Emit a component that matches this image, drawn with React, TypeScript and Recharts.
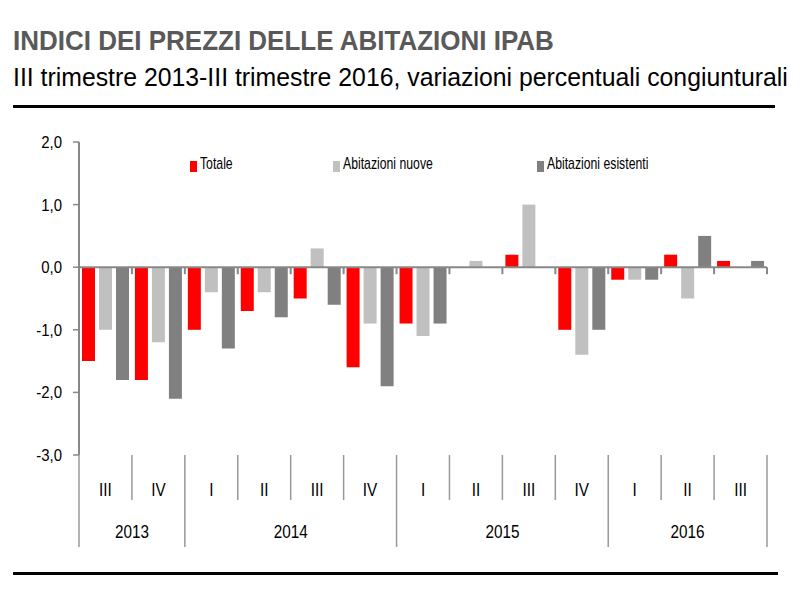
import { Bar, BarChart, Legend, ReferenceLine, XAxis, YAxis } from "recharts";

const quarters = ["III", "IV", "I", "II", "III", "IV", "I", "II", "III", "IV", "I", "II", "III"];
const quarterYears = ["2013", "2013", "2014", "2014", "2014", "2014", "2015", "2015", "2015", "2015", "2016", "2016", "2016"];
const totale = [-1.5, -1.8, -1.0, -0.7, -0.5, -1.6, -0.9, 0.0, 0.2, -1.0, -0.2, 0.2, 0.1];
const nuove = [-1.0, -1.2, -0.4, -0.4, 0.3, -0.9, -1.1, 0.1, 1.0, -1.4, -0.2, -0.5, 0.0];
const esistenti = [-1.8, -2.1, -1.3, -0.8, -0.6, -1.9, -0.9, 0.0, 0.0, -1.0, -0.2, 0.5, 0.1];
const seriesNames = ["Totale", "Abitazioni nuove", "Abitazioni esistenti"];
const yTicks = [-3, -2, -1, 0, 1, 2];

const data = quarters.map((q, i) => ({
  q,
  totale: totale[i],
  nuove: nuove[i],
  esistenti: esistenti[i],
}));

const FONT = "'Liberation Sans', Arial, sans-serif";
const W = 800;
const H = 594;
const margin = { top: 142, right: 33, bottom: 47, left: 19 };
const Y_AXIS_W = 60;
const PLOT_W = W - margin.left - margin.right - Y_AXIS_W;
const PLOT_H = 313;
const BAND = PLOT_W / quarters.length;
const Y_MIN = -3;
const Y_MAX = 2;

const fmt = (v: number) => v.toFixed(1).replace(".", ",");

// narrow text: Arial Narrow is not installed, so squeeze Liberation Sans
function NarrowText({ x, y, anchor, size, sx, children }: any) {
  return (
    <text
      transform={`translate(${x},${y}) scale(${sx},1)`}
      textAnchor={anchor}
      fontSize={size}
      fill="#000"
      fontFamily={FONT}
    >
      {children}
    </text>
  );
}

function QuarterTick(props: any) {
  const { x, y, payload } = props;
  const i = payload.index;
  const left = x - BAND / 2;
  const yr = quarterYears[i];
  const yearStart = i === 0 || quarterYears[i - 1] !== yr;
  const last = i === quarters.length - 1;
  const zeroY = y - ((0 - Y_MIN) / (Y_MAX - Y_MIN)) * PLOT_H;
  const n = quarterYears.filter((v) => v === yr).length;
  return (
    <g>
      <line x1={left} x2={left} y1={zeroY} y2={zeroY + 7} stroke="#888" strokeWidth={2} />
      {last && <line x1={left + BAND} x2={left + BAND} y1={zeroY} y2={zeroY + 7} stroke="#888" strokeWidth={2} />}
      <line x1={left} x2={left} y1={y} y2={yearStart ? y + 92 : y + 45} stroke="#999" strokeWidth={1.5} />
      {last && <line x1={left + BAND} x2={left + BAND} y1={y} y2={y + 92} stroke="#999" strokeWidth={1.5} />}
      <NarrowText x={x} y={y + 41} anchor="middle" size={18} sx={0.85}>
        {payload.value}
      </NarrowText>
      {yearStart && (
        <NarrowText x={left + (n * BAND) / 2} y={y + 83} anchor="middle" size={18} sx={0.85}>
          {yr}
        </NarrowText>
      )}
    </g>
  );
}

function ValueTick(props: any) {
  const { x, y, payload } = props;
  return (
    <NarrowText x={x} y={y + 6} anchor="end" size={17} sx={0.88}>
      {fmt(payload.value)}
    </NarrowText>
  );
}

const legendPos = [190, 333, 537];

function LegendContent(props: any) {
  const items = seriesNames.map((name) => props.payload.find((p: any) => p.value === name)).filter(Boolean);
  return (
    <div style={{ position: "relative", height: 20 }}>
      {items.map((p: any, i: number) => (
        <div key={p.value} style={{ position: "absolute", left: legendPos[i], top: 0, height: 20, whiteSpace: "nowrap" }}>
          <span
            style={{ position: "absolute", left: 0, top: 7, width: 7, height: 11, background: p.color }}
          />
          <span
            style={{
              position: "absolute",
              left: 10,
              top: 0,
              fontFamily: FONT,
              fontSize: 17,
              lineHeight: "20px",
              color: "#000",
              transform: "scaleX(0.72)",
              transformOrigin: "0 0",
            }}
          >
            {p.value}
          </span>
        </div>
      ))}
    </div>
  );
}

export default function App() {
  return (
    <div style={{ position: "absolute", left: 0, top: 0, width: W, height: H, background: "#fff" }}>
      <div
        style={{
          position: "absolute",
          left: 13,
          top: 27,
          fontFamily: FONT,
          fontWeight: "bold",
          fontSize: 28,
          lineHeight: 1,
          color: "#595959",
          whiteSpace: "nowrap",
          transform: "scaleX(0.928)",
          transformOrigin: "0 0",
        }}
      >
        INDICI DEI PREZZI DELLE ABITAZIONI IPAB
      </div>
      <div
        style={{
          position: "absolute",
          left: 13,
          top: 64,
          fontFamily: FONT,
          fontSize: 26,
          lineHeight: 1,
          color: "#000",
          whiteSpace: "nowrap",
          transform: "scaleX(0.954)",
          transformOrigin: "0 0",
        }}
      >
        III trimestre 2013-III trimestre 2016, variazioni percentuali congiunturali
      </div>
      <div style={{ position: "absolute", left: 13, top: 105, width: 762, height: 3, background: "#000" }} />
      <div style={{ position: "absolute", left: 13, top: 572, width: 765, height: 3, background: "#000" }} />
      <div style={{ position: "absolute", left: 0, top: 0 }}>
        <BarChart width={W} height={H} data={data} margin={margin} barCategoryGap={3} barGap={4}>
          <XAxis
            dataKey="q"
            interval={0}
            height={92}
            axisLine={false}
            tickLine={false}
            tickSize={0}
            tickMargin={0}
            tick={<QuarterTick />}
          />
          <YAxis
            width={Y_AXIS_W}
            domain={[Y_MIN, Y_MAX]}
            ticks={yTicks}
            axisLine={{ stroke: "#888", strokeWidth: 2 }}
            tickLine={{ stroke: "#888", strokeWidth: 1.5 }}
            tickSize={6}
            tickMargin={11}
            tick={<ValueTick />}
          />
          <ReferenceLine y={0} stroke="#888" strokeWidth={2} />
          <Legend
            verticalAlign="middle"
            align="center"
            content={<LegendContent />}
            wrapperStyle={{ top: 154, left: 0, width: W }}
          />
          <Bar dataKey="totale" name="Totale" fill="#FF0000" isAnimationActive={false} />
          <Bar dataKey="nuove" name="Abitazioni nuove" fill="#C0C0C0" isAnimationActive={false} />
          <Bar dataKey="esistenti" name="Abitazioni esistenti" fill="#808080" isAnimationActive={false} />
        </BarChart>
      </div>
    </div>
  );
}
